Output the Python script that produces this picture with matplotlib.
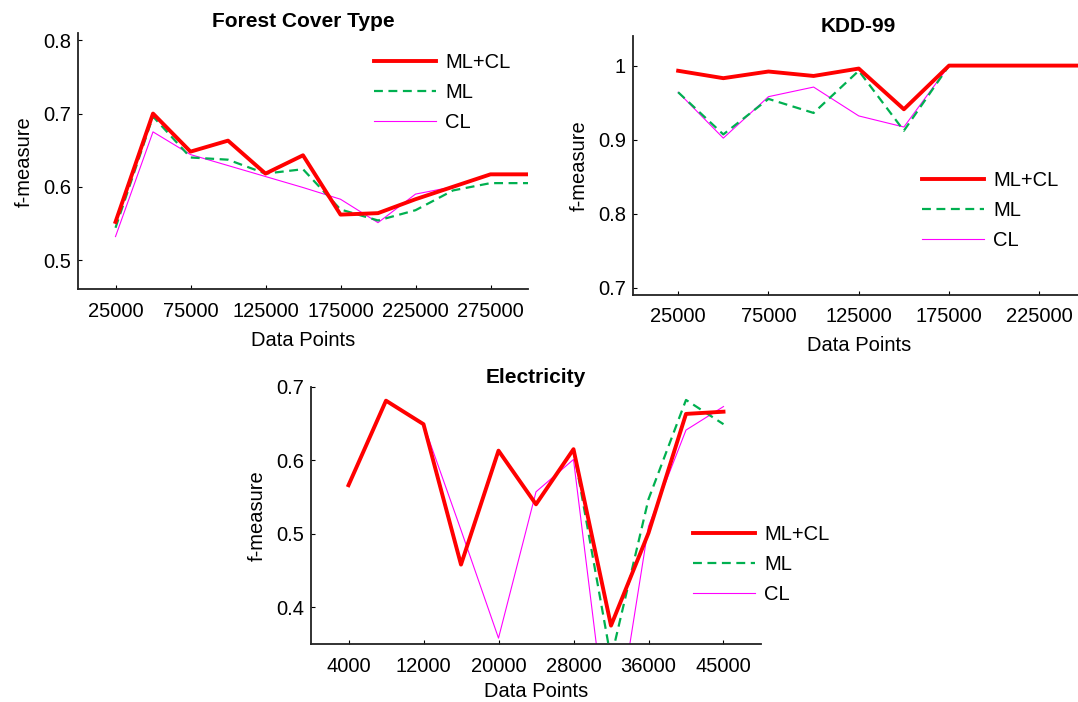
import matplotlib
matplotlib.use("Agg")
import matplotlib.pyplot as plt

plt.rcParams['font.family'] = ['Liberation Sans', 'DejaVu Sans']
plt.rcParams['font.size'] = 14.5

# -----------------------------
# Data
# -----------------------------
labels = ["ML+CL", "ML", "CL"]

forest_x = [25000, 50000, 75000, 100000, 125000, 150000, 175000, 200000,
            225000, 250000, 275000, 300000]
forest_mlcl = [0.552, 0.700, 0.648, 0.663, 0.618, 0.643, 0.562, 0.564,
               0.583, 0.600, 0.617, 0.617]
forest_ml = [0.544, 0.696, 0.640, 0.637, 0.618, 0.624, 0.569, 0.554,
             0.568, 0.595, 0.605, 0.605]
forest_cl = [0.532, 0.675, 0.644, 0.629, 0.614, 0.599, 0.583, 0.551,
             0.590, 0.600, 0.617, 0.617]
forest_ticks = [25000, 75000, 125000, 175000, 225000, 275000]

kdd_x = [25000, 50000, 75000, 100000, 125000, 150000, 175000, 200000,
         225000, 250000]
kdd_mlcl = [0.993, 0.983, 0.992, 0.986, 0.996, 0.941, 1.0, 1.0, 1.0, 1.0]
kdd_ml = [0.964, 0.907, 0.955, 0.936, 0.993, 0.912, 1.0, 1.0, 1.0, 1.0]
kdd_cl = [0.964, 0.902, 0.958, 0.971, 0.932, 0.917, 1.0, 1.0, 1.0, 1.0]
kdd_ticks = [25000, 75000, 125000, 175000, 225000]

elec_x = [4000, 8000, 12000, 16000, 20000, 24000, 28000, 32000, 36000,
          40000, 44000]
elec_mlcl = [0.566, 0.681, 0.649, 0.458, 0.613, 0.540, 0.615, 0.375,
             0.501, 0.663, 0.666]
elec_ml = [0.566, 0.681, 0.649, 0.458, 0.613, 0.540, 0.615, 0.330,
           0.547, 0.682, 0.649]
elec_cl = [0.566, 0.681, 0.649, 0.505, 0.358, 0.557, 0.601, 0.188,
           0.510, 0.641, 0.673]
elec_ticks = [4000, 12000, 20000, 28000, 36000, 44000]
elec_ticklabels = ["4000", "12000", "20000", "28000", "36000", "45000"]

W, H = 1078, 702
fig = plt.figure(figsize=(W / 100, H / 100), dpi=100)


def px_axes(left, top, right, bottom):
    return fig.add_axes([left / W, 1 - bottom / H, (right - left) / W,
                         (bottom - top) / H])


def draw(ax, x, mlcl, ml, cl, title, title_pad, xpad=7):
    ax.plot(x, mlcl, color="#ff0000", lw=2.8, label=labels[0], zorder=4)
    ax.plot(x, ml, color="#00b050", lw=1.6, ls=(0, (4, 2.5)), label=labels[1],
            zorder=3)
    ax.plot(x, cl, color="#ff00ff", lw=0.8, label=labels[2], zorder=2)
    ax.set_title(title, fontweight="bold", fontsize=15, pad=title_pad)
    ax.set_xlabel("Data Points", labelpad=xpad)
    ax.set_ylabel("f-measure", labelpad=7)
    for s in ["top", "right"]:
        ax.spines[s].set_visible(False)
    for s in ["left", "bottom"]:
        ax.spines[s].set_linewidth(1.3)
        ax.spines[s].set_color("#222222")
    ax.tick_params(direction="in", length=3, width=0.8)
    ax.tick_params(axis="x", pad=9)
    ax.tick_params(axis="y", pad=5)


def legend(ax, x, y):
    ax.legend(loc="upper left", bbox_to_anchor=(x / W, 1 - y / H),
              bbox_transform=fig.transFigure, frameon=False,
              borderpad=0, borderaxespad=0, handlelength=3.1,
              handletextpad=0.45, labelspacing=0.55)


# -----------------------------
# Forest Cover Type
# -----------------------------
ax1 = px_axes(78, 33, 528, 289.3)
draw(ax1, forest_x, forest_mlcl, forest_ml, forest_cl, "Forest Cover Type", 4)
ax1.set_xlim(0, 300000)
ax1.set_ylim(0.46, 0.81)
ax1.set_xticks(forest_ticks)
ax1.set_yticks([0.5, 0.6, 0.7, 0.8])
legend(ax1, 374, 53)

# -----------------------------
# KDD-99
# -----------------------------
ax2 = px_axes(633, 36, 633 + 451.5, 295)
draw(ax2, kdd_x, kdd_mlcl, kdd_ml, kdd_cl, "KDD-99", 2)
ax2.set_xlim(0, 250000)
ax2.set_ylim(0.69, 1.04)
ax2.set_xticks(kdd_ticks)
ax2.set_yticks([0.7, 0.8, 0.9, 1.0])
ax2.set_yticklabels(["0.7", "0.8", "0.9", "1"])
legend(ax2, 922, 171)

# -----------------------------
# Electricity
# -----------------------------
ax3 = px_axes(311, 386.7, 761, 644)
draw(ax3, elec_x, elec_mlcl, elec_ml, elec_cl, "Electricity", 0.5, xpad=4.5)
ax3.set_xlim(0, 48000)
ax3.set_ylim(0.35, 0.7)
ax3.set_xticks(elec_ticks)
ax3.set_xticklabels(elec_ticklabels)
ax3.set_yticks([0.4, 0.5, 0.6, 0.7])
legend(ax3, 693, 525)

fig.savefig("out.png", dpi=100)
